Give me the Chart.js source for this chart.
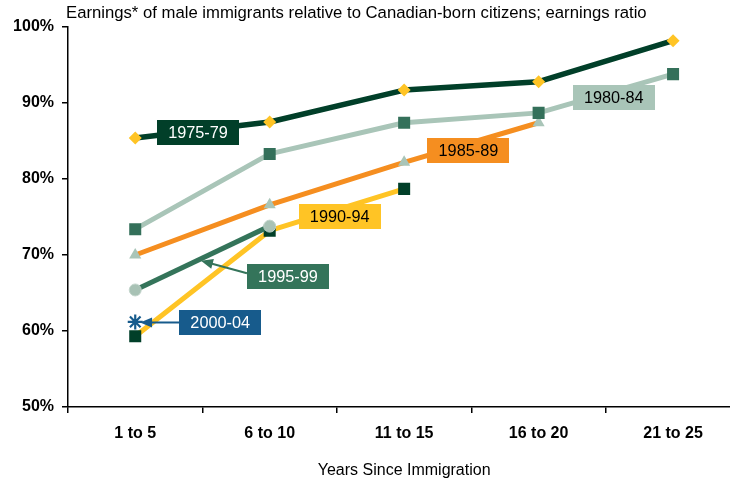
<!DOCTYPE html>
<html>
<head>
<meta charset="utf-8">
<script src="https://cdn.jsdelivr.net/npm/chart.js@4/dist/chart.umd.min.js"></script>
<style>
  html, body { margin: 0; padding: 0; overflow: hidden; background: #fff; }
  canvas { display: block; }
</style>
</head>
<body>
<canvas id="chart" width="750" height="482"></canvas>
<script>
// Earnings ratio (%) of male immigrants vs Canadian-born, by arrival cohort
const categories = ['1 to 5', '6 to 10', '11 to 15', '16 to 20', '21 to 25'];
const cohortNames = ['1975-79', '1980-84', '1985-89', '1990-94', '1995-99', '2000-04'];
const cohort7579 = [85.4, 87.5, 91.7, 92.8, 98.2];
const cohort8084 = [73.4, 83.3, 87.4, 88.7, 93.8];
const cohort8589 = [70.0, 76.6, 82.2, 87.4, null];
const cohort9094 = [59.3, 73.2, 78.7, null, null];
const cohort9599 = [65.4, 73.8, null, null, null];
const cohort0004 = [61.2, null, null, null, null];
const yTicks = [50, 60, 70, 80, 90, 100];

const chartTitle = 'Earnings* of male immigrants relative to Canadian-born citizens; earnings ratio';
const xAxisTitle = 'Years Since Immigration';

const FONT = '"Liberation Sans", Arial, Helvetica, sans-serif';

// Boxed cohort tags, anchored in data space (category index, percent)
const tags = [
  { text: cohortNames[0], at: [0.467, 86.16], fill: '#013f29', ink: '#ffffff' },
  { text: cohortNames[1], at: [3.559, 90.67], fill: '#a9c5b8', ink: '#000000' },
  { text: cohortNames[2], at: [2.478, 83.75], fill: '#f58e20', ink: '#000000' },
  { text: cohortNames[3], at: [1.521, 75.04], fill: '#ffc425', ink: '#000000' },
  { text: cohortNames[4], at: [1.136, 67.21], fill: '#34745a', ink: '#ffffff', arrowTo: [0.489, 69.25], tailDy: -3 },
  { text: cohortNames[5], at: [0.632, 61.12], fill: '#175b8c', ink: '#ffffff', arrowTo: [0.036, 61.12], tailDy: 0 }
];

const tagPlugin = {
  id: 'cohortTags',
  afterDatasetsDraw(chart) {
    const { ctx, scales: { x, y } } = chart;
    const w = 82, h = 25;
    ctx.save();
    ctx.font = '16.3px ' + FONT;
    tags.forEach(t => {
      const cx = x.getPixelForValue(t.at[0]);
      const cy = y.getPixelForValue(t.at[1]);
      if (t.arrowTo) {
        const tx = x.getPixelForValue(t.arrowTo[0]);
        const ty = y.getPixelForValue(t.arrowTo[1]);
        const sx = cx - w / 2, sy = cy + t.tailDy;
        const ang = Math.atan2(ty - sy, tx - sx);
        const len = 12, half = 5;
        ctx.strokeStyle = t.fill;
        ctx.fillStyle = t.fill;
        ctx.lineWidth = 2;
        ctx.beginPath();
        ctx.moveTo(sx, sy);
        ctx.lineTo(tx - Math.cos(ang) * len * 0.8, ty - Math.sin(ang) * len * 0.8);
        ctx.stroke();
        ctx.beginPath();
        ctx.moveTo(tx, ty);
        ctx.lineTo(tx - Math.cos(ang) * len + Math.sin(ang) * half, ty - Math.sin(ang) * len - Math.cos(ang) * half);
        ctx.lineTo(tx - Math.cos(ang) * len - Math.sin(ang) * half, ty - Math.sin(ang) * len + Math.cos(ang) * half);
        ctx.closePath();
        ctx.fill();
      }
      ctx.fillStyle = t.fill;
      ctx.fillRect(Math.round(cx - w / 2), Math.round(cy - h / 2), w, h);
      ctx.fillStyle = t.ink;
      ctx.textAlign = 'center';
      ctx.textBaseline = 'middle';
      ctx.fillText(t.text, cx, cy + 1);
    });
    ctx.restore();
  },
  afterDraw(chart) {
    const ctx = chart.ctx;
    ctx.save();
    ctx.font = '16.7px ' + FONT;
    ctx.fillStyle = '#000';
    ctx.textAlign = 'left';
    ctx.textBaseline = 'alphabetic';
    ctx.fillText(chartTitle, 66, 18);
    ctx.restore();
  }
};

function series(label, data, line, marker) {
  return Object.assign({
    label,
    data,
    borderColor: line,
    borderWidth: 5,
    fill: false,
    tension: 0,
    spanGaps: false,
    pointBorderWidth: 0,
    borderCapStyle: 'butt',
    borderJoinStyle: 'round'
  }, marker);
}

new Chart(document.getElementById('chart'), {
  type: 'line',
  data: {
    labels: categories,
    datasets: [
      series(cohortNames[0], cohort7579, '#013f29', {
        borderWidth: 5.5, pointStyle: 'rectRot', pointRadius: 6.5, pointHoverRadius: 6.5,
        pointBackgroundColor: '#ffc425', pointBorderColor: '#ffc425'
      }),
      series(cohortNames[1], cohort8084, '#a9c5b8', {
        pointStyle: 'rect', pointRadius: 8.5, pointHoverRadius: 8.5,
        pointBackgroundColor: '#34705a', pointBorderColor: '#34705a'
      }),
      series(cohortNames[2], cohort8589, '#f58e20', {
        pointStyle: 'triangle', pointRadius: 7, pointHoverRadius: 7,
        pointBackgroundColor: '#a9c5b8', pointBorderColor: '#a9c5b8'
      }),
      series(cohortNames[4], cohort9599, '#34745a', {
        pointStyle: 'circle', pointRadius: 6, pointHoverRadius: 6,
        pointBackgroundColor: '#a8c2b5', pointBorderColor: '#c3d5cc', pointBorderWidth: 1
      }),
      series(cohortNames[3], cohort9094, '#ffc425', {
        pointStyle: 'rect', pointRadius: 8.5, pointHoverRadius: 8.5,
        pointBackgroundColor: '#013f29', pointBorderColor: '#013f29'
      }),
      series(cohortNames[5], cohort0004, '#175b8c', {
        pointStyle: 'star', pointRadius: 7.5, pointHoverRadius: 7.5,
        pointBackgroundColor: '#175b8c', pointBorderColor: '#175b8c', pointBorderWidth: 2.2
      })
    ]
  },
  options: {
    responsive: false,
    animation: false,
    events: [],
    layout: { padding: { left: 0, top: 27, right: 3, bottom: 0 } },
    plugins: {
      legend: { display: false },
      tooltip: { enabled: false },
      title: { display: false }
    },
    scales: {
      x: {
        type: 'category',
        offset: true,
        grid: {
          offset: true, drawOnChartArea: false, drawTicks: true,
          tickLength: 6, color: '#000', lineWidth: 1.5
        },
        border: { display: true, color: '#000', width: 1.5 },
        ticks: {
          color: '#000', padding: 11, maxRotation: 0, autoSkip: false,
          font: { family: FONT, size: 16, weight: 'bold' }
        },
        title: {
          display: true, text: xAxisTitle, color: '#000',
          font: { family: FONT, size: 16 }, padding: { top: 0, bottom: 1.5 }
        },
        afterFit(scale) { scale.height = 75; }
      },
      y: {
        min: 50,
        max: 100,
        afterBuildTicks(scale) { scale.ticks = yTicks.map(v => ({ value: v })); },
        grid: {
          drawOnChartArea: false, drawTicks: true,
          tickLength: 6, color: '#000', lineWidth: 1.5
        },
        border: { display: true, color: '#000', width: 1.5 },
        ticks: {
          color: '#000', padding: 8,
          font: { family: FONT, size: 16, weight: 'bold' },
          callback: v => v + '%'
        },
        afterFit(scale) { scale.width = 68; }
      }
    }
  },
  plugins: [tagPlugin]
});
</script>
</body>
</html>
